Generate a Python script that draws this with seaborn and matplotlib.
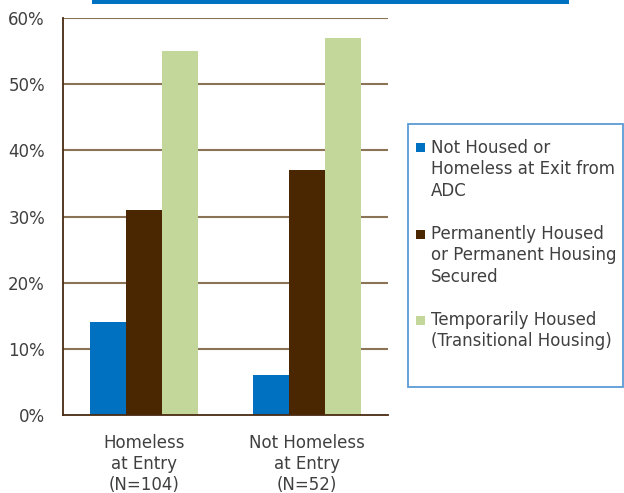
import matplotlib
matplotlib.use("Agg")
import matplotlib.pyplot as plt
import seaborn as sns
import pandas as pd
from matplotlib.patches import Rectangle

# Entry status groups (x categories)
groups = ["Homeless\nat Entry\n(N=104)", "Not Homeless\nat Entry\n(N=52)"]
# Housing outcome at exit (hue)
outcomes = [
    "Not Housed or\nHomeless at Exit from\nADC",
    "Permanently Housed\nor Permanent Housing\nSecured",
    "Temporarily Housed\n(Transitional Housing)",
]
homeless_at_entry = [14, 31, 55]
not_homeless_at_entry = [6, 37, 57]
y_ticks = [0, 10, 20, 30, 40, 50, 60]
y_tick_labels = ["0%", "10%", "20%", "30%", "40%", "50%", "60%"]

colors = ["#0070C0", "#4A2700", "#C4D79B"]
text_color = "#404040"
grid_color = "#8B7355"
axis_color = "#4A2A10"
FS = 12
LS = 1.235

rows = []
for g, vals in zip(groups, [homeless_at_entry, not_homeless_at_entry]):
    for o, v in zip(outcomes, vals):
        rows.append({"group": g, "outcome": o, "pct": v})
df = pd.DataFrame(rows)

sns.set_style("white")
plt.rcParams["font.family"] = ["DejaVu Sans"]

W, H = 624, 493
fig = plt.figure(figsize=(W / 100, H / 100), dpi=100)
ax = fig.add_axes([63 / W, (H - 415) / H, 325 / W, (415 - 18) / H])

sns.barplot(data=df, x="group", y="pct", hue="outcome", order=groups,
            hue_order=outcomes, palette=colors, width=0.665, gap=0,
            saturation=1, edgecolor="none", linewidth=0, legend=False, ax=ax)

ax.set_xlim(-0.5, 1.5)
ax.set_ylim(0, 60)
ax.set_yticks(y_ticks)
ax.set_yticklabels(y_tick_labels)
ax.set_xlabel("")
ax.set_ylabel("")

# horizontal gridlines across the plot width
for t in y_ticks[1:]:
    ax.axhline(t, color=grid_color, lw=1.5, zorder=0.5)

for s in ["top", "right"]:
    ax.spines[s].set_visible(False)
for s in ["left", "bottom"]:
    ax.spines[s].set_color(axis_color)
    ax.spines[s].set_linewidth(1.3)

ax.tick_params(axis="y", length=5, width=1.3, color=axis_color,
               labelsize=FS, labelcolor=text_color, pad=8)
ax.set_xticks([0, 1])
ax.set_xticklabels(groups, linespacing=1.2)
ax.set_xticks([-0.5, 0.5, 1.5], minor=True)
ax.tick_params(axis="x", which="major", length=0, labelsize=FS,
               labelcolor=text_color, pad=14)
ax.tick_params(axis="x", which="minor", length=5, width=1.3, color=axis_color)

# accent bar along the top edge
fig.add_artist(Rectangle((92 / W, 1 - 3.5 / H), (569 - 92) / W, 3.5 / H,
                         transform=fig.transFigure, color="#0070C0", lw=0))

# legend box with square swatches next to the first line of each label
fig.add_artist(Rectangle((407.5 / W, (H - 387) / H), (623 - 407.5) / W,
                         (387 - 124) / H, transform=fig.transFigure,
                         facecolor="white", edgecolor="#5B9BD5", lw=1.3))
line_px = 21.5
y = 148.0
for label, c in zip(outcomes, colors):
    fig.add_artist(Rectangle((416 / W, 1 - (y + 4.5) / H), 9 / W, 9 / H,
                             transform=fig.transFigure, color=c, lw=0))
    fig.text(431 / W, 1 - (y - 9) / H, label, fontsize=FS, color=text_color,
             ha="left", va="top", linespacing=LS)
    n = label.count("\n") + 1
    y += n * line_px + line_px

fig.savefig("out.png", dpi=100)
